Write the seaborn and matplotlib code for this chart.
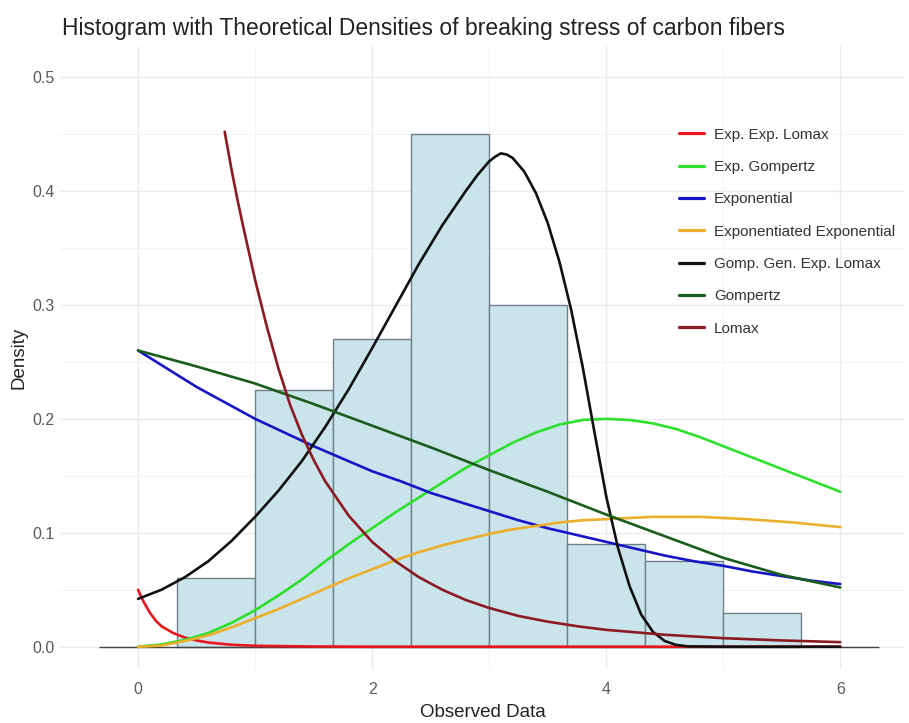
import numpy as np
import pandas as pd
import matplotlib
matplotlib.use("Agg")
import matplotlib.pyplot as plt
import seaborn as sns

# ---- histogram (density scale) ----
bin_edges = [0.333, 1.0, 1.667, 2.333, 3.0, 3.667, 4.333, 5.0, 5.667]
bin_density = [0.060, 0.225, 0.270, 0.450, 0.300, 0.090, 0.075, 0.030]

# ---- theoretical density curves ----
eel_x = [0, 0.025, 0.05, 0.1, 0.15, 0.2, 0.3, 0.4, 0.5, 0.6, 0.8, 1.0, 1.5, 2, 3, 4, 5, 6]
eel_y = [0.050, 0.044, 0.039, 0.030, 0.023, 0.018, 0.012, 0.008, 0.0055, 0.0037, 0.0017, 0.0008, 0.0002,
         0, 0, 0, 0, 0]

egomp_x = [0, 0.2, 0.4, 0.6, 0.8, 1.0, 1.2, 1.4, 1.6, 1.8, 2.0, 2.2, 2.4, 2.6, 2.8, 3.0,
           3.2, 3.4, 3.6, 3.8, 4.0, 4.2, 4.4, 4.6, 4.8, 5.0, 5.2, 5.4, 5.6, 5.8, 6.0]
egomp_y = [0.0, 0.002, 0.006, 0.012, 0.021, 0.032, 0.045, 0.059, 0.075, 0.090, 0.104, 0.118, 0.131, 0.144,
           0.157, 0.168, 0.179, 0.188, 0.195, 0.199, 0.200, 0.199, 0.196, 0.191, 0.184, 0.176, 0.168,
           0.160, 0.152, 0.144, 0.136]

expo_x = [0, 0.25, 0.5, 0.75, 1, 1.25, 1.5, 1.75, 2, 2.25, 2.5, 2.75, 3, 3.25, 3.5, 3.75, 4,
          4.25, 4.5, 4.75, 5, 5.25, 5.5, 5.75, 6]
expo_y = [0.260, 0.244, 0.228, 0.214, 0.200, 0.188, 0.176, 0.165, 0.154, 0.145, 0.135, 0.127, 0.119,
          0.111, 0.104, 0.098, 0.092, 0.086, 0.080, 0.075, 0.071, 0.066, 0.062, 0.058, 0.055]

ee_x = [0, 0.2, 0.4, 0.6, 0.8, 1.0, 1.2, 1.4, 1.6, 1.8, 2.0, 2.2, 2.4, 2.6, 2.8, 3.0, 3.2,
        3.4, 3.6, 3.8, 4.0, 4.4, 4.8, 5.2, 5.6, 6.0]
ee_y = [0.0, 0.001, 0.005, 0.010, 0.017, 0.025, 0.033, 0.042, 0.051, 0.060, 0.068, 0.076, 0.083, 0.089,
        0.094, 0.099, 0.103, 0.106, 0.109, 0.111, 0.112, 0.114, 0.114, 0.112, 0.109, 0.105]

ggel_x = [0, 0.2, 0.4, 0.6, 0.8, 1.0, 1.2, 1.4, 1.6, 1.8, 2.0, 2.2, 2.4, 2.6, 2.8, 2.9, 3.0,
          3.05, 3.1, 3.15, 3.2, 3.3, 3.4, 3.5, 3.6, 3.7, 3.8, 3.9, 4.0, 4.1, 4.2, 4.3, 4.4, 4.5,
          4.6, 4.7, 5.0, 6.0]
ggel_y = [0.042, 0.050, 0.061, 0.075, 0.093, 0.114, 0.137, 0.163, 0.193, 0.226, 0.262, 0.299, 0.336,
          0.370, 0.400, 0.414, 0.426, 0.430, 0.433, 0.432, 0.429, 0.417, 0.398, 0.372, 0.338, 0.296,
          0.245, 0.188, 0.132, 0.087, 0.053, 0.028, 0.013, 0.005, 0.0015, 0.0003, 0.0, 0.0]

gomp_x = [0, 0.5, 1, 1.5, 2, 2.5, 3, 3.5, 4, 4.5, 5, 5.5, 6]
gomp_y = [0.260, 0.246, 0.231, 0.213, 0.194, 0.175, 0.155, 0.136, 0.116, 0.097, 0.078, 0.063, 0.052]

lomax_x = [0.74, 0.8, 0.85, 0.9, 0.95, 1.0, 1.1, 1.2, 1.3, 1.4, 1.5, 1.6, 1.8, 2.0, 2.2, 2.4, 2.6,
           2.8, 3.0, 3.25, 3.5, 3.75, 4.0, 4.5, 5.0, 5.5, 6.0]
lomax_y = [0.452, 0.418, 0.392, 0.368, 0.345, 0.322, 0.281, 0.244, 0.212, 0.186, 0.164, 0.145, 0.115,
           0.092, 0.075, 0.061, 0.050, 0.041, 0.034, 0.027, 0.022, 0.018, 0.0148, 0.0105, 0.0075,
           0.0055, 0.004]

models = ["Exp. Exp. Lomax", "Exp. Gompertz", "Exponential", "Exponentiated Exponential",
          "Gomp. Gen. Exp. Lomax", "Gompertz", "Lomax"]
colors = ["#E8161C", "#2EE02E", "#1616C8", "#EDAE2C", "#111111", "#1B5E1B", "#8B1A22"]

curves = {
    "Exp. Exp. Lomax": (eel_x, eel_y),
    "Exp. Gompertz": (egomp_x, egomp_y),
    "Exponential": (expo_x, expo_y),
    "Exponentiated Exponential": (ee_x, ee_y),
    "Gomp. Gen. Exp. Lomax": (ggel_x, ggel_y),
    "Gompertz": (gomp_x, gomp_y),
    "Lomax": (lomax_x, lomax_y),
}
frames = []
for name, (xs, ys) in curves.items():
    frames.append(pd.DataFrame({"x": xs, "y": ys, "model": name}))
df = pd.concat(frames, ignore_index=True)

sns.set_theme(style="white")
plt.rcParams["font.family"] = ["Liberation Sans", "DejaVu Sans"]

fig = plt.figure(figsize=(9.09, 7.23), dpi=100)
ax = fig.add_axes([0.066, 0.074, 0.930, 0.862])

# grid
ax.set_axisbelow(True)
ax.set_xticks([0, 2, 4, 6])
ax.set_xticks([1, 3, 5], minor=True)
ax.set_yticks([0.0, 0.1, 0.2, 0.3, 0.4, 0.5])
ax.set_yticks([0.05, 0.15, 0.25, 0.35, 0.45], minor=True)
ax.grid(which="major", color="#EBEBEB", linewidth=1.0)
ax.grid(which="minor", color="#F3F3F3", linewidth=0.8)
for s in ax.spines.values():
    s.set_visible(False)

centers = [(bin_edges[i] + bin_edges[i + 1]) / 2 for i in range(len(bin_density))]
sns.histplot(x=centers, weights=bin_density, bins=bin_edges, ax=ax, stat="count",
             color="#CAE4EC", edgecolor="#6F8089", linewidth=1.0, alpha=1.0, zorder=2)

ax.hlines(0, -0.33, 6.33, color="#444444", linewidth=1.0, zorder=2.5)

sns.lineplot(data=df, x="x", y="y", hue="model", hue_order=models, palette=colors,
             estimator=None, sort=False, linewidth=1.9, ax=ax, zorder=3)

ax.set_xlim(-0.667, 6.556)
ax.set_ylim(-0.020, 0.527)

ax.tick_params(axis="both", which="both", length=0, labelsize=11.5, labelcolor="#5A5A5A")
ax.tick_params(axis="x", pad=9)
ax.tick_params(axis="y", pad=4)
ax.set_yticklabels(["0.0", "0.1", "0.2", "0.3", "0.4", "0.5"])
ax.set_xticklabels(["0", "2", "4", "6"])
ax.set_xlabel("Observed Data", fontsize=13.5, color="#222222", labelpad=5)
ax.set_ylabel("Density", fontsize=13.5, color="#222222", labelpad=3)

handles, labels = ax.get_legend_handles_labels()
leg = ax.legend(handles, labels, loc="upper left", bbox_to_anchor=(665 / 909, 1 - 114 / 723),
                bbox_transform=fig.transFigure, frameon=False, fontsize=11,
                handlelength=1.65, handletextpad=0.65, labelspacing=1.2, title=None)
for t in leg.get_texts():
    t.set_color("#333333")
for h in leg.get_lines():
    h.set_linewidth(2.3)

fig.text(62 / 909, 1 - 28 / 723, "Histogram with Theoretical Densities of breaking stress of carbon fibers",
         fontsize=16.5, color="#222222", ha="left", va="center")

fig.savefig("out.png", dpi=100)
